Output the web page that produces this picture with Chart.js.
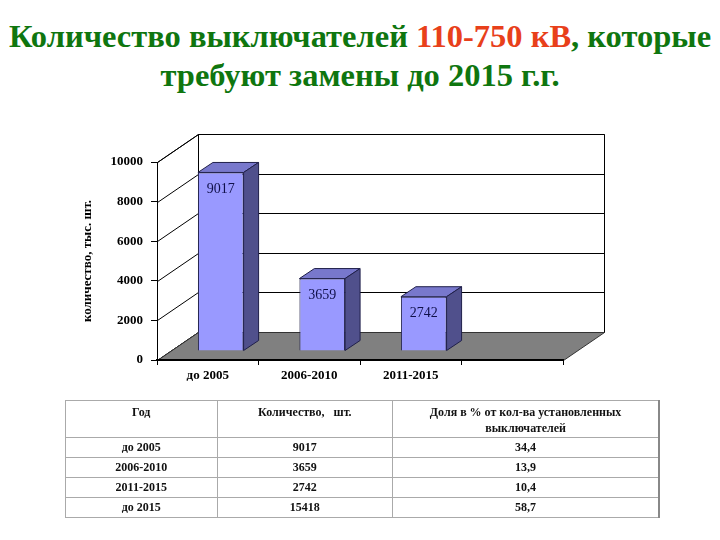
<!DOCTYPE html>
<html>
<head>
<meta charset="utf-8">
<script src="https://cdn.jsdelivr.net/npm/chart.js@4"></script>
<style>
  body { margin: 0; background: #fff; }
  #wrap { position: relative; width: 720px; height: 540px; overflow: hidden; }
  #title {
    position: absolute; left: 0; top: 17px; width: 720px; text-align: center;
    font: bold 32.5px "Liberation Serif", "Times New Roman", serif; line-height: 39px; color: #0f760f;
  }
  #title .red { color: #e8401a; }
  canvas { position: absolute; left: 0; top: 0; }
  #tbl {
    position: absolute; left: 65px; top: 400px; width: 595px; border-collapse: collapse;
    font: bold 12px "Liberation Serif", "Times New Roman", serif; color: #111;
    border-right: 2px solid #888;
  }
  #tbl td { border: 1px solid #aaa; text-align: center; padding: 0; height: 19px; }
  #tbl tr.head td { height: 33px; vertical-align: top; padding-top: 3px; line-height: 16px; white-space: pre-wrap; }
</style>
</head>
<body>
<div id="wrap">
  <div id="title">Количество выключателей <span class="red">110-750 кВ</span>, которые<br>требуют замены до 2015 г.г.</div>
  <canvas id="chart" width="720" height="540"></canvas>
  <table id="tbl"></table>
</div>
<script>
// chart data
var periods = ["до 2005", "2006-2010", "2011-2015", ""];
var counts = [9017, 3659, 2742, null];

// table data
var tableHead = ["Год", "Количество,   шт.", "Доля в % от кол-ва установленных выключателей"];
var tablePeriods = ["до 2005", "2006-2010", "2011-2015", "до 2015"];
var tableCounts = [9017, 3659, 2742, 15418];
var tableShares = ["34,4", "13,9", "10,4", "58,7"];

// build the table
var tbl = document.getElementById("tbl");
var html = '<tr class="head">' + tableHead.map(function (h, i) {
  var w = [152, 176, 267][i];
  return '<td style="width:' + w + 'px">' + h + '</td>';
}).join("") + '</tr>';
tablePeriods.forEach(function (p, i) {
  html += "<tr><td>" + p + "</td><td>" + tableCounts[i] + "</td><td>" + tableShares[i] + "</td></tr>";
});
tbl.innerHTML = html;

// fake 3d: back wall offset, bar offset from the front edge, bar depth
var DX = 41, DY = -28;
var BX = 13, BY = -9;
var PX = 15, PY = -10;

function poly(ctx, pts, fill, stroke) {
  ctx.beginPath();
  ctx.moveTo(pts[0][0], pts[0][1]);
  for (var i = 1; i < pts.length; i++) ctx.lineTo(pts[i][0], pts[i][1]);
  ctx.closePath();
  if (fill) { ctx.fillStyle = fill; ctx.fill(); }
  if (stroke) { ctx.strokeStyle = stroke; ctx.stroke(); }
}

var box3d = {
  id: "box3d",
  beforeDraw: function (chart) {
    var ctx = chart.ctx, a = chart.chartArea, y = chart.scales.y;
    var L = Math.round(a.left) + 0.5, R = Math.round(a.right) + 0.5;
    var T = Math.round(a.top) + 0.5, B = Math.round(a.bottom) + 0.5;
    ctx.save();
    ctx.lineWidth = 1;
    // side wall + back wall
    poly(ctx, [[L, T], [L + DX, T + DY], [L + DX, B + DY], [L, B]], "#fff", "#000");
    poly(ctx, [[L + DX, T + DY], [R + DX, T + DY], [R + DX, B + DY], [L + DX, B + DY]], "#fff", "#000");
    // grid lines on both walls
    y.ticks.forEach(function (t) {
      var py = Math.round(y.getPixelForValue(t.value)) + 0.5;
      ctx.beginPath();
      ctx.moveTo(L, py);
      ctx.lineTo(L + DX, py + DY);
      ctx.lineTo(R + DX, py + DY);
      ctx.strokeStyle = "#000";
      ctx.stroke();
    });
    // floor
    poly(ctx, [[L, B], [L + DX, B + DY], [R + DX, B + DY], [R, B]], "#808080", "#333");
    ctx.restore();
  },
  beforeDatasetsDraw: function (chart) {
    chart.ctx.save();
    chart.ctx.translate(BX, BY);
  },
  afterDatasetsDraw: function (chart) {
    var ctx = chart.ctx;
    ctx.lineWidth = 1;
    chart.getDatasetMeta(0).data.forEach(function (bar, i) {
      if (counts[i] == null) return;
      var p = bar.getProps(["x", "y", "base", "width"], true);
      var l = p.x - p.width / 2, r = p.x + p.width / 2;
      // top and side faces
      poly(ctx, [[l, p.y], [l + PX, p.y + PY], [r + PX, p.y + PY], [r, p.y]], "#7878cc", "#20204a");
      poly(ctx, [[r, p.y], [r + PX, p.y + PY], [r + PX, p.base + PY], [r, p.base]], "#50508c", "#20204a");
      // value label
      ctx.fillStyle = "#10104a";
      ctx.font = "14px 'Liberation Serif', 'Times New Roman', serif";
      ctx.textAlign = "center";
      ctx.textBaseline = "top";
      ctx.fillText(counts[i], p.x, p.y + 10);
    });
    ctx.restore();
  }
};

var tickFont = { family: "'Liberation Serif', 'Times New Roman', serif", size: 13, weight: "bold" };

new Chart("chart", {
  type: "bar",
  data: {
    labels: periods,
    datasets: [
      {
        data: counts,
        backgroundColor: "#9999ff",
        borderColor: "#20204a",
        borderWidth: 1,
        categoryPercentage: 1,
        barPercentage: 0.45,
      },
    ],
  },
  options: {
    responsive: false,
    animation: false,
    layout: { padding: { left: 75, top: 162, right: 157, bottom: 150 } },
    plugins: {
      legend: { display: false },
      tooltip: { enabled: false },
    },
    scales: {
      x: {
        offset: true,
        grid: { offset: true, drawOnChartArea: false, tickLength: 5, color: "#000" },
        border: { display: true, color: "#000", width: 2 },
        ticks: { color: "#000", font: tickFont, padding: 3, maxRotation: 0 },
        afterFit: function (scale) { scale.height = 30; },
      },
      y: {
        min: 0,
        max: 10000,
        ticks: {
          stepSize: 2000, color: "#000", font: tickFont, padding: 8,
          callback: function (v) { return String(v); },
        },
        grid: { drawOnChartArea: false, tickLength: 6, color: "#000" },
        border: { display: true, color: "#000", width: 1 },
        title: {
          display: true,
          text: "количество, тыс. шт.",
          color: "#000",
          font: { family: "'Liberation Serif', 'Times New Roman', serif", size: 13, weight: "bold" },
          padding: { top: 5, bottom: 0 },
        },
        afterFit: function (scale) { scale.width = 82; },
      },
    },
  },
  plugins: [box3d],
});
</script>
</body>
</html>
